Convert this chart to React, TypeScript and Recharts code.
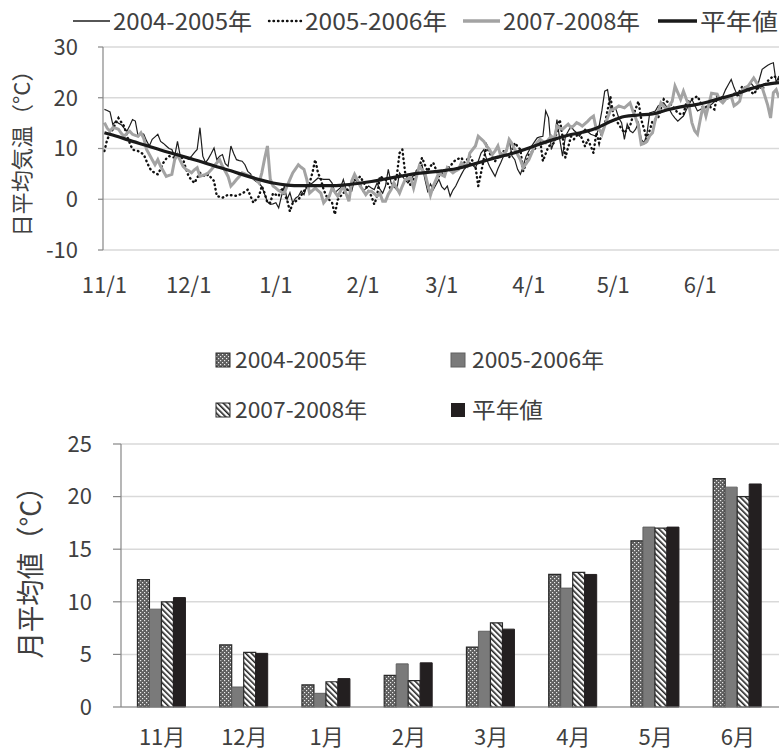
import React from 'react';
import { LineChart, Line, BarChart, Bar, XAxis, YAxis, CartesianGrid } from 'recharts';

const FONT = '"Noto Sans CJK JP", "Noto Sans", sans-serif';
const TEXT = '#404040';

// ---- Top chart: daily mean temperature (day 0 = 11/1) ----
const monthTicks = [0, 30, 61, 92, 120, 151, 181, 212];
const monthLabels = ['11/1', '12/1', '1/1', '2/1', '3/1', '4/1', '5/1', '6/1'];

const series2004 = [
  17.7, 17.5, 17.2, 14.7, 15.4, 15.0, 14.7, 14.0, 13.4, 14.5,
  15.7, 15.4, 12.4, 13.0, 12.8, 11.5, 10.5, 11.8, 12.3, 12.8,
  11.4, 11.0, 10.5, 10.0, 9.8, 8.5, 11.4, 8.5, 8.3, 8.2,
  7.9, 8.5, 9.2, 9.8, 14.1, 8.5, 7.2, 8.0, 9.0, 10.1,
  7.8, 8.5, 8.8, 7.0, 6.5, 10.5, 9.0, 7.8, 7.6, 7.5,
  6.8, 5.5, 5.0, 3.9, 3.5, 3.2, 2.5, 1.0, -0.5, -1.0,
  -0.9, -0.7, -1.7, 0.6, 2.6, 0.0, 1.3, -0.7, 0.2, 0.6,
  1.6, 0.9, 2.6, 2.9, 3.2, 3.7, 4.2, 4.0, 3.9, 3.9,
  3.9, 3.2, 1.3, 1.8, 2.3, 3.9, 1.9, 1.7, 1.6, 3.9,
  3.5, 3.2, 1.6, 2.1, 2.6, 2.2, 1.9, 3.2, 2.0, 1.2,
  2.6, 5.9, 3.2, 2.5, 1.9, 5.2, 4.5, 3.8, 3.2, 3.9,
  4.7, 5.5, 6.2, 6.8, 4.0, 1.6, 3.0, 1.9, 2.9, 3.9,
  2.5, 1.9, 2.6, 0.6, 1.8, 2.6, 3.8, 4.9, 5.9, 6.5,
  7.2, 6.7, 6.2, 7.5, 9.1, 9.8, 7.8, 6.5, 5.5, 4.5,
  6.0, 7.2, 8.5, 9.8, 11.8, 8.5, 7.8, 5.9, 4.9, 6.5,
  8.5, 9.5, 10.5, 11.3, 12.1, 12.3, 12.4, 17.4, 16.1, 9.8,
  11.4, 15.7, 11.8, 8.5, 12.4, 13.4, 14.4, 13.6, 13.1, 12.4,
  13.2, 13.8, 13.3, 12.8, 12.6, 12.4, 14.4, 17.5, 21.3, 21.6,
  18.0, 17.9, 17.7, 16.0, 15.1, 11.8, 14.8, 13.5, 13.1, 13.8,
  15.1, 11.8, 11.1, 12.8, 17.0, 17.2, 17.4, 18.4, 18.7, 19.0,
  18.2, 17.7, 16.7, 16.0, 15.4, 15.9, 16.4, 17.6, 18.7, 19.7,
  18.5, 17.4, 17.7, 18.0, 18.0, 18.3, 18.7, 19.2, 19.7, 20.0,
  20.3, 21.6, 22.6, 23.6, 22.0, 20.7, 20.3, 21.0, 21.6, 22.3,
  22.9, 22.2, 21.6, 23.6, 25.6, 26.0, 26.4, 26.7, 26.9, 23.0,
  24.3,
];

const series2005 = [
  9.5, 11.8, 12.8, 13.8, 15.0, 16.0, 15.2, 14.4, 12.5, 11.1,
  9.8, 9.6, 9.5, 9.2, 8.8, 7.5, 6.2, 5.5, 5.2, 4.9,
  6.0, 7.2, 8.0, 8.5, 8.3, 8.2, 8.4, 8.5, 7.9, 6.0,
  4.5, 3.8, 3.2, 4.2, 5.2, 4.8, 4.5, 4.9, 4.2, 3.6,
  0.6, 0.5, 0.3, 0.6, 0.9, 0.8, 0.7, 0.7, 0.9, 1.1,
  1.5, 1.9, 0.6, -0.7, 0.0, 0.6, 2.6, 1.2, -0.7, -0.7,
  1.2, 0.9, 0.6, 2.2, 1.0, -0.1, -2.4, -0.7, -0.4, -0.1,
  0.8, 1.6, 2.4, 3.2, 5.2, 7.8, 5.2, 3.9, 1.9, 0.6,
  -0.1, -0.7, -3.0, -0.1, 0.6, 1.2, 1.7, 2.2, 3.2, 3.5,
  3.9, 4.5, 3.5, 2.6, 1.6, 0.6, -1.0, 0.6, 4.5, 4.2,
  3.9, 2.9, 1.9, 3.2, 4.5, 9.1, 9.8, 5.2, 3.9, 2.6,
  4.0, 5.5, 6.2, 8.2, 6.8, 5.5, 6.5, 7.2, 5.8, 4.5,
  5.0, 5.5, 6.0, 6.5, 7.2, 7.8, 8.0, 8.2, 7.2, 7.8,
  8.5, 7.5, 6.5, 2.6, 5.2, 8.0, 10.5, 9.1, 8.3, 7.5,
  8.3, 9.1, 9.5, 8.8, 8.2, 9.6, 11.1, 10.4, 9.8, 5.5,
  7.0, 8.8, 9.3, 9.8, 10.8, 11.8, 7.5, 9.0, 10.4, 10.8,
  11.1, 13.4, 15.7, 12.4, 8.2, 10.3, 12.4, 11.8, 12.5, 13.1,
  11.8, 10.4, 11.8, 10.5, 9.1, 13.1, 11.1, 13.1, 14.7, 17.5,
  20.3, 16.7, 15.7, 14.7, 13.9, 13.1, 13.8, 14.4, 16.4, 17.8,
  19.3, 15.7, 13.8, 11.8, 13.6, 15.4, 15.7, 16.0, 17.9, 19.7,
  19.3, 19.0, 18.4, 17.7, 17.0, 16.8, 16.7, 19.0, 19.4, 19.7,
  20.0, 20.3, 19.2, 18.0, 18.2, 18.4, 18.0, 17.7, 20.3, 19.8,
  19.3, 19.6, 20.0, 20.5, 20.9, 20.3, 21.3, 22.3, 22.0, 21.6,
  21.2, 20.7, 21.5, 22.3, 21.6, 22.5, 23.3, 23.8, 24.3, 24.0,
  23.6,
];

const series2007 = [
  15.1, 14.0, 13.4, 14.1, 14.0, 13.8, 13.0, 12.4, 13.0, 13.4,
  12.8, 12.6, 12.4, 13.1, 12.0, 9.8, 8.8, 7.8, 6.8, 7.8,
  6.5, 5.5, 4.5, 4.7, 4.9, 7.8, 8.8, 7.6, 6.5, 5.9,
  5.6, 5.2, 5.8, 6.2, 4.5, 4.7, 4.9, 5.2, 5.8, 6.5,
  7.2, 7.8, 6.5, 5.5, 4.5, 2.6, 3.2, 3.9, 4.5, 5.2,
  5.0, 4.7, 4.5, 4.2, 3.9, 3.2, 5.2, 8.0, 10.5, 4.0,
  2.6, 2.2, 1.7, 1.4, 1.2, 2.6, 3.9, 5.2, 6.0, 6.8,
  6.3, 5.9, 3.9, 1.2, 1.7, 2.2, 1.7, 1.2, -0.7, 0.0,
  0.6, 2.2, 1.4, 0.6, 1.6, 2.6, 1.1, -0.4, 3.6, 4.9,
  3.8, 2.6, 1.8, 0.9, 1.6, 1.6, 1.1, 0.6, 1.2, -0.4,
  -0.4, 1.0, 1.9, 3.2, 2.2, 1.2, 2.6, 3.9, 4.0, 4.2,
  2.2, 4.4, 6.5, 5.8, 5.2, 3.0, 0.8, 2.6, 3.9, 5.2,
  4.8, 4.5, 6.2, 5.7, 5.2, 5.6, 5.9, 7.2, 6.8, 6.5,
  9.1, 9.8, 10.5, 12.4, 11.9, 11.4, 10.5, 9.8, 8.8, 9.5,
  10.5, 8.5, 9.0, 9.5, 11.8, 11.0, 9.8, 8.8, 7.8, 6.2,
  7.0, 7.8, 9.1, 10.5, 11.2, 11.8, 11.4, 11.1, 11.8, 12.4,
  11.8, 14.4, 14.0, 13.8, 14.3, 14.8, 14.1, 14.5, 15.1, 14.8,
  14.4, 14.9, 15.4, 16.0, 16.4, 13.8, 13.8, 12.8, 14.5, 16.0,
  17.5, 17.7, 18.0, 18.4, 18.2, 18.0, 18.5, 19.0, 17.4, 16.0,
  14.4, 10.8, 11.0, 11.4, 12.5, 13.1, 15.7, 17.2, 19.0, 18.3,
  17.7, 18.5, 19.3, 22.3, 21.0, 19.7, 21.3, 19.8, 18.4, 15.1,
  13.5, 12.8, 15.7, 18.4, 16.4, 18.6, 20.9, 20.8, 20.7, 19.5,
  19.0, 19.7, 20.0, 20.3, 18.4, 18.8, 19.3, 21.6, 22.0, 22.3,
  23.1, 23.9, 23.0, 22.3, 22.0, 20.3, 18.5, 16.0, 21.0, 21.6,
  20.0,
];

// normal (平年値), read every 5 days
const normalDays = [0, 5, 10, 15, 20, 25, 30, 35, 40, 45, 50, 55, 60, 65, 70, 75, 80, 85, 90, 95, 100, 105, 110, 115, 120, 125, 130, 135, 140, 145, 150, 155, 160, 165, 170, 175, 180, 185, 190, 195, 200, 205, 210, 215, 220, 225, 230, 235, 240];
const normalValues = [13.1, 12.3, 11.4, 10.6, 9.7, 8.9, 8.1, 7.3, 6.4, 5.6, 4.7, 3.9, 3.2, 2.8, 2.7, 2.7, 2.7, 2.8, 3.1, 3.5, 4.0, 4.5, 5.0, 5.3, 5.6, 6.0, 6.7, 7.5, 8.3, 9.0, 9.9, 10.9, 11.8, 12.6, 13.2, 14.0, 15.3, 16.3, 16.6, 16.8, 17.6, 18.2, 18.6, 19.2, 20.0, 20.8, 21.8, 22.6, 23.0];

const dailyData = series2004.map((v, i) => ({ day: i, a: v, b: series2005[i], c: series2007[i] }));
const normalData = normalDays.map((d, i) => ({ day: d, n: normalValues[i] }));

// ---- Bottom chart: monthly means ----
const months = ['11月', '12月', '1月', '2月', '3月', '4月', '5月', '6月'];
const bar2004 = [12.1, 5.9, 2.1, 3.0, 5.7, 12.6, 15.8, 21.7];
const bar2005 = [9.3, 1.9, 1.3, 4.1, 7.2, 11.3, 17.1, 20.9];
const bar2007 = [10.0, 5.2, 2.4, 2.5, 8.0, 12.8, 17.0, 20.0];
const barNormal = [10.4, 5.1, 2.7, 4.2, 7.4, 12.6, 17.1, 21.2];
const barData = months.map((m, i) => ({ month: m, b2004: bar2004[i], b2005: bar2005[i], b2007: bar2007[i], normal: barNormal[i] }));

const tickStyle = { fontSize: 22, fill: TEXT, fontFamily: FONT };

const Patterns = () => (
  <defs>
    <pattern id="p2004" width="4" height="4" patternUnits="userSpaceOnUse">
      <rect width="4" height="4" fill="#5e5e5e" />
      <rect x="0" y="0" width="1.2" height="1.2" fill="#ececec" />
      <rect x="2" y="2" width="1.2" height="1.2" fill="#ececec" />
    </pattern>
    <pattern id="p2007" width="4" height="4" patternUnits="userSpaceOnUse" patternTransform="rotate(-45)">
      <rect width="4" height="4" fill="#ffffff" />
      <rect x="0" y="0" width="1.6" height="4" fill="#222" />
    </pattern>
  </defs>
);

export default function App() {
  return (
    <div style={{ position: 'absolute', left: 0, top: 0, width: 779, height: 753, background: '#fff', fontFamily: FONT, overflow: 'hidden' }}>
      <div style={{ position: 'absolute', left: 0, top: 0 }}>
        <LineChart width={779} height={310} data={dailyData} margin={{ top: 47, right: 0, bottom: 0, left: 0 }}>
          <CartesianGrid vertical={false} stroke="#d9d9d9" strokeWidth={1.5} />
          <XAxis
            dataKey="day"
            type="number"
            domain={[-0.5, 240]}
            ticks={monthTicks}
            tickFormatter={(v: number) => monthLabels[monthTicks.indexOf(v)] ?? ''}
            axisLine={false}
            tickLine={false}
            tickSize={0}
            tickMargin={27}
            height={60}
            tick={tickStyle}
            allowDataOverflow
          />
          <YAxis
            type="number"
            domain={[-10, 30]}
            ticks={[-10, 0, 10, 20, 30]}
            width={103}
            axisLine={{ stroke: '#868686', strokeWidth: 1.2 }}
            tickLine={{ stroke: '#868686', strokeWidth: 1.2 }}
            tickSize={5}
            tickMargin={20}
            tick={tickStyle}
            allowDataOverflow
          />
          <Line dataKey="a" type="linear" stroke="#1e1e1e" strokeWidth={1.2} dot={false} isAnimationActive={false} />
          <Line dataKey="b" type="linear" stroke="#111" strokeWidth={2.4} strokeDasharray="0.5 4" strokeLinecap="round" dot={false} isAnimationActive={false} />
          <Line dataKey="c" type="linear" stroke="#a3a3a3" strokeWidth={3} dot={false} isAnimationActive={false} />
          <Line data={normalData} dataKey="n" type="monotone" stroke="#1a1a1a" strokeWidth={3.2} dot={false} isAnimationActive={false} />
        </LineChart>
      </div>

      <div style={{ position: 'absolute', left: 0, top: 420 }}>
        <BarChart width={779} height={333} data={barData} margin={{ top: 24, right: 0, bottom: 0, left: 0 }} barCategoryGap="20%" barGap={0}>
          <Patterns />
          <CartesianGrid vertical={false} stroke="#d9d9d9" strokeWidth={1.5} />
          <XAxis
            dataKey="month"
            axisLine={{ stroke: '#868686', strokeWidth: 1.2 }}
            tickLine={false}
            tickSize={0}
            tickMargin={22}
            height={46}
            tick={tickStyle}
          />
          <YAxis
            type="number"
            domain={[0, 25]}
            ticks={[0, 5, 10, 15, 20, 25]}
            width={121}
            axisLine={{ stroke: '#868686', strokeWidth: 1.2 }}
            tickLine={{ stroke: '#868686', strokeWidth: 1.2 }}
            tickSize={8}
            tickMargin={21}
            tick={tickStyle}
          />
          <Bar dataKey="b2004" fill="url(#p2004)" stroke="#2a2a2a" strokeWidth={1.2} isAnimationActive={false} />
          <Bar dataKey="b2005" fill="#7a7a7a" stroke="#606060" strokeWidth={1} isAnimationActive={false} />
          <Bar dataKey="b2007" fill="url(#p2007)" stroke="#2a2a2a" strokeWidth={1.2} isAnimationActive={false} />
          <Bar dataKey="normal" fill="#231f20" stroke="#231f20" strokeWidth={1} isAnimationActive={false} />
        </BarChart>
      </div>

      <svg width={779} height={753} style={{ position: 'absolute', left: 0, top: 0, pointerEvents: 'none' }} fontFamily={FONT}>
        <Patterns />
        {/* top legend */}
        <line x1={73} y1={21} x2={110} y2={21} stroke="#1e1e1e" strokeWidth={1.5} />
        <text x={113} y={30} fontSize={23} fill={TEXT} textLength={139} lengthAdjust="spacingAndGlyphs">2004-2005年</text>
        <line x1={269} y1={21} x2={301} y2={21} stroke="#111" strokeWidth={2.4} strokeDasharray="0.5 4" strokeLinecap="round" />
        <text x={305} y={30} fontSize={23} fill={TEXT} textLength={142} lengthAdjust="spacingAndGlyphs">2005-2006年</text>
        <line x1={463} y1={21} x2={500} y2={21} stroke="#a3a3a3" strokeWidth={3.5} />
        <text x={503} y={30} fontSize={23} fill={TEXT} textLength={137} lengthAdjust="spacingAndGlyphs">2007-2008年</text>
        <line x1={658} y1={21} x2={697} y2={21} stroke="#1a1a1a" strokeWidth={3.5} />
        <text x={700} y={30} fontSize={23} fill={TEXT} textLength={78} lengthAdjust="spacingAndGlyphs">平年値</text>

        {/* top y title */}
        <text x={20} y={148} transform="rotate(-90 20 148)" textAnchor="middle" dominantBaseline="central" fontSize={22} fill={TEXT} textLength={177} lengthAdjust="spacingAndGlyphs">日平均気温（°C）</text>

        {/* bottom legend */}
        <rect x={216} y={353} width={14} height={14} fill="url(#p2004)" stroke="#2a2a2a" strokeWidth={1} />
        <text x={235} y={368} fontSize={22} fill={TEXT} textLength={132} lengthAdjust="spacingAndGlyphs">2004-2005年</text>
        <rect x={451} y={353} width={14} height={14} fill="#7a7a7a" stroke="#606060" strokeWidth={1} />
        <text x={472} y={368} fontSize={22} fill={TEXT} textLength={132} lengthAdjust="spacingAndGlyphs">2005-2006年</text>
        <rect x={216} y={403} width={14} height={14} fill="url(#p2007)" stroke="#2a2a2a" strokeWidth={1} />
        <text x={235} y={418} fontSize={22} fill={TEXT} textLength={132} lengthAdjust="spacingAndGlyphs">2007-2008年</text>
        <rect x={451} y={403} width={14} height={14} fill="#231f20" />
        <text x={472} y={418} fontSize={22} fill={TEXT} textLength={71} lengthAdjust="spacingAndGlyphs">平年値</text>

        {/* bottom y title */}
        <text x={29} y={566} transform="rotate(-90 29 566)" textAnchor="middle" dominantBaseline="central" fontSize={28} fill={TEXT} textLength={185} lengthAdjust="spacingAndGlyphs">月平均値（°C）</text>
      </svg>
    </div>
  );
}
